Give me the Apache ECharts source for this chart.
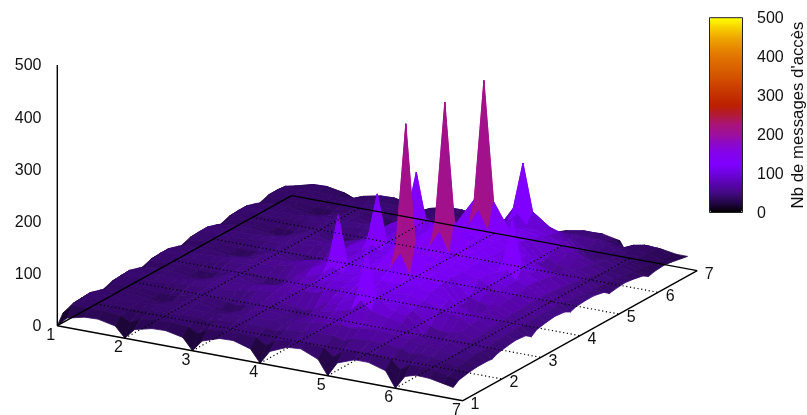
<!DOCTYPE html>
<html><head><meta charset="utf-8">
<style>html,body{margin:0;padding:0;background:#fff}#c{width:807px;height:415px}</style>
<script src="https://cdn.jsdelivr.net/npm/echarts@6/dist/echarts.min.js"></script>
</head><body><div id="c"></div>
<script>
var xValues=[1,1.143,1.4,1.6,1.857,2,2.143,2.4,2.6,2.857,3,3.143,3.4,3.6,3.857,4,4.143,4.4,4.6,4.857,5,5.143,5.4,5.6,5.857,6,6.143,6.3,6.5,6.7,6.857];
var yValues=[1,1.143,1.4,1.6,1.857,2,2.143,2.4,2.6,2.857,3,3.143,3.4,3.6,3.857,4,4.143,4.4,4.6,4.857,5,5.143,5.4,5.6,5.857,6,6.143,6.4,6.6,6.857,7];
var accessCounts=[
[0,18,26,27,20,0,20,27,28,21,0,21,28,28,21,0,21,28,28,20,0,20,27,27,20,0,19,26,26,18,0],
[18,36,41,42,36,32,36,42,43,37,32,37,43,43,37,32,37,43,43,37,32,36,42,42,36,31,35,40,38,28,18],
[26,37,40,41,39,37,39,41,42,41,39,41,43,43,41,39,41,43,43,41,38,40,41,41,39,36,38,39,38,37,26],
[27,37,40,41,40,39,40,42,43,42,41,42,44,44,42,41,42,44,44,42,39,41,42,42,40,37,39,39,38,38,27],
[20,33,38,40,36,34,36,43,44,38,36,38,45,45,38,36,38,45,45,38,35,37,42,42,36,33,35,38,36,32,20],
[0,24,37,41,34,24,35,45,46,37,24,38,47,47,38,25,38,46,46,37,24,36,43,43,34,22,33,39,36,25,0],
[20,34,40,42,37,34,38,47,48,40,36,40,50,50,40,37,40,49,49,39,36,38,46,46,37,34,36,41,38,32,20],
[28,38,42,44,45,45,46,49,51,51,50,51,52,52,51,50,50,51,51,50,48,48,47,47,45,43,43,43,41,39,28],
[29,39,43,45,47,47,48,51,54,54,54,55,56,56,55,54,53,53,53,51,49,48,47,47,45,43,43,43,41,40,29],
[22,36,43,46,40,36,42,54,57,46,42,47,60,60,48,42,48,57,56,44,38,42,50,49,39,35,38,43,39,33,22],
[0,26,40,45,37,26,39,56,60,44,30,46,63,63,46,30,46,60,58,40,26,40,52,50,37,24,35,42,38,25,0],
[22,38,45,48,42,37,44,60,63,50,44,52,68,68,52,44,52,66,63,46,40,44,54,52,41,36,38,42,38,33,22],
[33,41,47,50,54,55,58,63,66,68,72,71,74,75,74,72,72,72,72,72,70,64,58,54,50,46,44,43,41,41,30],
[34,43,48,52,57,62,64,68,72,78,88,84,84,86,87,92,88,86,86,88,90,76,66,58,52,48,45,43,41,41,31],
[24,40,48,54,52,50,56,76,84,92,110,94,92,94,94,110,94,94,94,94,110,94,78,66,46,42,40,44,38,33,24],
[0,28,44,50,50,40,54,76,88,108,200,110,100,100,108,200,110,100,100,108,200,110,88,72,44,30,38,44,38,25,0],
[26,40,50,58,54,50,60,85,96,98,110,98,98,98,98,110,98,98,98,98,110,96,84,74,50,44,42,46,40,34,26],
[40,46,54,62,72,80,86,94,100,106,112,110,110,112,114,116,114,112,112,112,112,102,90,78,66,58,52,48,43,42,33],
[42,48,56,66,78,88,96,104,110,114,118,118,118,120,120,120,120,120,120,120,118,110,96,82,70,60,54,50,44,42,35],
[28,44,56,68,88,110,94,104,112,126,168,115,118,120,126,168,115,118,120,126,168,115,106,98,90,110,70,56,46,38,28],
[0,30,50,66,108,200,110,105,112,156,400,165,122,122,156,400,165,122,122,156,400,165,108,95,108,200,110,70,50,28,0],
[28,44,58,70,92,112,95,104,112,119,171,110,118,120,119,171,110,118,120,119,171,110,104,98,88,110,70,58,46,38,28],
[40,50,60,72,84,92,100,106,114,118,118,118,118,120,120,120,120,118,118,118,116,110,104,98,92,86,70,58,48,44,36],
[40,50,60,70,80,88,94,100,108,112,112,114,114,114,114,114,112,114,112,110,106,102,98,92,86,78,66,56,47,44,37],
[30,46,56,66,60,58,68,92,98,78,74,82,106,108,100,110,100,102,100,76,72,74,84,78,58,52,50,54,46,38,30],
[0,30,48,60,56,41,62,84,90,72,54,76,96,100,108,200,110,96,88,66,54,66,76,70,50,40,46,50,42,25,0],
[26,42,52,60,56,54,62,80,84,68,66,72,88,90,92,110,92,88,82,62,60,60,68,62,46,44,42,46,40,34,26],
[32,42,50,56,60,62,66,70,72,74,76,76,78,80,84,84,82,78,74,68,66,62,58,54,50,46,44,42,38,38,30],
[31,40,46,50,54,56,58,60,62,64,64,66,66,68,68,68,66,64,62,58,56,54,50,46,44,42,40,38,37,37,28],
[26,34,40,44,46,46,48,50,52,52,52,52,54,54,54,54,52,50,48,46,44,44,42,40,38,36,34,32,30,27,24],
[22,30,34,36,36,35,40,44,46,44,36,44,48,50,48,42,46,48,48,44,36,38,40,38,34,27,30,32,30,26,24]
];
var xTicks=[1,2,3,4,5,6,7];
var yTicks=[1,2,3,4,5,6,7];
var zTicks=[0,100,200,300,400,500];
var cbTicks=[0,100,200,300,400,500];
var cbTitle="Nb de messages d'accès";
var paletteColors=['#000000','#240648','#420a82','#5a04b0','#6e02e0','#7f00ff','#8302ee','#8c08cc','#9c0f9c','#a8147a','#b21a38','#bc2000','#c43000','#cc4000','#d45400','#da6400','#e07400','#e88c00','#f0a800','#f8d000','#ffff00'];
function project(i,j,z){
  return [57.3+67.6*(i-1)+39.05*(j-1), 325.7+12.5*(i-1)-21.67*(j-1)-0.5214*z];
}
var FONT='16px "Liberation Sans", Arial, sans-serif';
var quads=[];
for(var r=0;r<xValues.length-1;r++){
  for(var c=yValues.length-2;c>=0;c--){
    var m=(accessCounts[r][c]+accessCounts[r+1][c]+accessCounts[r][c+1]+accessCounts[r+1][c+1])/4;
    quads.push([r,c,m]);
  }
}
var segs=[];
function seg(a,b,dotted){segs.push({a:a,b:b,dotted:dotted});}
xTicks.slice(1,-1).forEach(function(t){seg(project(t,1,0),project(t,7,0),true);});
yTicks.slice(1,-1).forEach(function(t){seg(project(1,t,0),project(7,t,0),true);});
seg(project(1,1,0),project(7,1,0));
seg(project(7,1,0),project(7,7,0));
seg(project(7,7,0),project(1,7,0));
seg(project(1,7,0),project(1,1,0));
seg(project(1,1,0),project(1,1,500));
var labels=[];
xTicks.forEach(function(t){var p=project(t,1,0);labels.push({x:p[0]-6.5,y:p[1]+9.5,t:String(t),a:'center'});});
yTicks.forEach(function(t){var p=project(7,t,0);labels.push({x:p[0]+12,y:p[1]+4,t:String(t),a:'center'});});
zTicks.forEach(function(t){var p=project(1,1,t);labels.push({x:41.5,y:p[1]+1,t:String(t),a:'right'});});
cbTicks.forEach(function(t){labels.push({x:757,y:213.5-194.6*t/500,t:String(t),a:'left'});});
labels.push({x:798.5,y:115,t:cbTitle,a:'center',rot:Math.PI/2,font:'16.8px "Liberation Sans", Arial, sans-serif'});
var chart=echarts.init(document.getElementById('c'),null,{renderer:'canvas'});
chart.setOption({
  animation:false,
  grid:{left:0,right:0,top:0,bottom:0,containLabel:false},
  xAxis:{type:'value',min:0,max:807,show:false},
  yAxis:{type:'value',min:0,max:415,inverse:true,show:false},
  visualMap:{type:'continuous',min:0,max:500,left:710,top:18,itemWidth:32,itemHeight:194.4,text:null,showLabel:false,calculable:false,seriesIndex:0,dimension:2,inRange:{color:paletteColors},hoverLink:false,padding:0,textStyle:{fontSize:0},formatter:function(){return '';}},
  series:[
  {type:'custom',coordinateSystem:'cartesian2d',silent:true,clip:false,z:1,dimensions:['r','c','mean'],encode:{x:-1,y:-1},data:quads,
   renderItem:function(params,api){
     var r=api.value(0),c=api.value(1);
     var pts=[[r,c],[r+1,c],[r+1,c+1],[r,c+1]].map(function(q){
       return api.coord(project(xValues[q[0]],yValues[q[1]],accessCounts[q[0]][q[1]]));
     });
     var col=api.visual('color');
     return {type:'polygon',shape:{points:pts},style:{fill:col,stroke:col,lineWidth:0.8,lineJoin:'round'}};
   }},
  {type:'custom',coordinateSystem:'cartesian2d',silent:true,clip:false,z:2,encode:{x:-1,y:-1},data:segs.map(function(s,i){return [i];}),
   renderItem:function(params,api){
     var s=segs[api.value(0)];var a=api.coord(s.a),b=api.coord(s.b);
     return {type:'line',shape:{x1:a[0],y1:a[1],x2:b[0],y2:b[1]},style:{stroke:'#000',lineWidth:s.dotted?1.2:1.4,lineDash:s.dotted?[1.2,2.6]:null,fill:null}};
   }},
  {type:'custom',coordinateSystem:'cartesian2d',silent:true,clip:false,z:3,encode:{x:-1,y:-1},data:labels.map(function(s,i){return [i];}),
   renderItem:function(params,api){
     var l=labels[api.value(0)];var a=api.coord([l.x,l.y]);
     return {type:'text',x:a[0],y:a[1],rotation:l.rot||0,style:{x:0,y:0,text:l.t,font:l.font||FONT,fill:'#111',align:l.a,verticalAlign:'middle'}};
   }}
  ],
  graphic:[{type:'rect',z:10,shape:{x:709.5,y:17.7,width:33,height:194.8},style:{fill:'none',stroke:'#222',lineWidth:1}}]
});
</script></body></html>
